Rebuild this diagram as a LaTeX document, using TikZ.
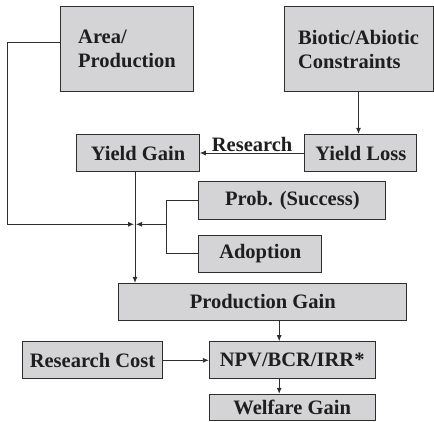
\documentclass[tikz,border=0pt]{standalone}
\usepackage{fontspec}
\setmainfont{Liberation Serif}
\usetikzlibrary{arrows.meta}
\definecolor{boxgray}{HTML}{D4D4D6}
\definecolor{linegray}{HTML}{2E2E2E}
\definecolor{textgray}{HTML}{1E1E1E}
\begin{document}
\begin{tikzpicture}[x=1pt,y=-1pt,
  txt/.style={font=\fontsize{20.5}{24}\selectfont\bfseries, text=textgray},
  box/.style={txt, draw=linegray, fill=boxgray, line width=1pt, inner sep=0pt},
  arr/.style={-{Latex[length=6pt,width=5pt]}, draw=linegray, line width=0.8pt},
  ln/.style={draw=linegray, line width=0.8pt}]
\useasboundingbox (0,0) rectangle (434,422);
\node[box, minimum width=132.6pt, minimum height=85pt, align=left] (area) at (127,49.2) {Area/\\Production};
\node[box, minimum width=149pt, minimum height=85pt, align=left] (biotic) at (358.5,49.2) {Biotic/Abiotic\\Constraints};
\node[box, minimum width=122.6pt, minimum height=37.4pt] (yg) at (138,153) {Yield Gain};
\node[box, minimum width=111.7pt, minimum height=37.4pt] (yl) at (360.8,153) {Yield Loss};
\node[box, minimum width=186.7pt, minimum height=37.6pt] (prob) at (292.3,200.5) {Prob. (Success)};
\node[box, minimum width=122.7pt, minimum height=37.3pt] (adopt) at (260.3,253.7) {Adoption};
\node[box, minimum width=287.7pt, minimum height=36.7pt] (pg) at (262.8,301.7) {Production Gain};
\node[box, minimum width=139.6pt, minimum height=37.3pt] (rc) at (92.5,360.3) {Research Cost};
\node[box, minimum width=165.7pt, minimum height=37.3pt] (npv) at (292.2,360.3) {NPV/BCR/IRR*};
\node[box, minimum width=165.7pt, minimum height=26.4pt] (wg) at (292.2,407.5) {Welfare Gain};
\coordinate (J) at (135,224.3);
\coordinate (lft) at (7.3,224.3);
\coordinate (br) at (166.7,224.3);
\coordinate (c1) at ([xshift=-13pt]npv.north);
\coordinate (c2) at ([xshift=-13pt]npv.south);
\draw[arr] (biotic.south) -- (biotic.south |- yl.north);
\draw[arr] (yl.west) -- node[txt, above=-2pt] (lab) {Research} (yg.east);
\draw[arr] ([yshift=6.5pt]area.west) -| (lft) -- ([xshift=-1pt]J);
\draw[ln] (prob.west) -| (br) |- (adopt.west);
\draw[arr] (br) -- ([xshift=1pt]J);
\draw[arr] ([xshift=-3pt]yg.south) -- (J |- pg.north);
\draw[arr] (c1 |- pg.south) -- (c1);
\draw[arr] (rc.east) -- (npv.west);
\draw[arr] (c2) -- (c2 |- wg.north);
\end{tikzpicture}
\end{document}
